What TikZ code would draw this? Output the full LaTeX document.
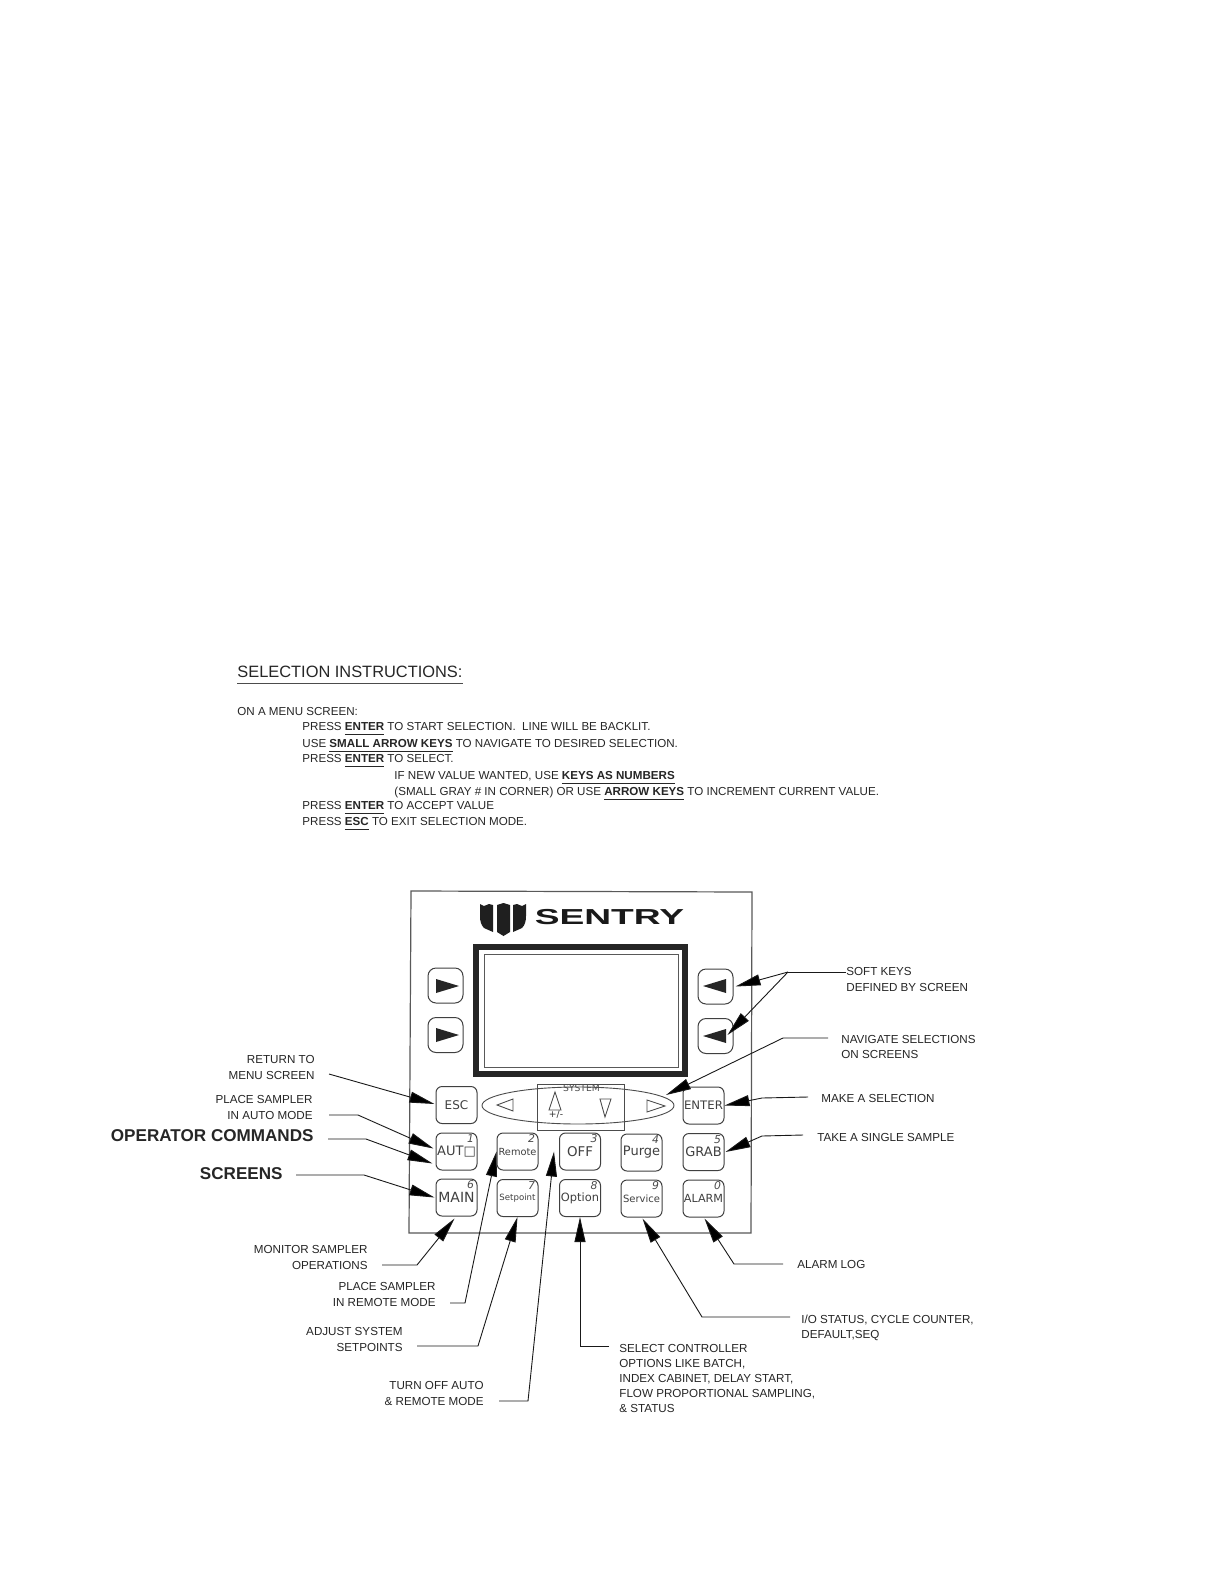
\documentclass[tikz,border=0pt]{standalone}
\usepackage{fontspec}
\setmainfont{Liberation Sans}
\newfontfamily\keyfont{DejaVu Sans}
\usetikzlibrary{arrows.meta}
\newcommand{\sz}[1]{\fontsize{#1}{#1}\selectfont}
\newcommand{\ul}[1]{\textbf{\underline{#1\rule[-.8pt]{0pt}{0pt}}}}
\tikzset{
  x=.5pt,y=-.5pt,
  lab/.style={inner sep=0pt,text=black!85,font=\fontsize{5.82}{7.55}\selectfont},
  labr/.style={lab,align=right,anchor=east},
  labl/.style={lab,align=left,anchor=west},
  big/.style={inner sep=0pt,anchor=east,text=black!85,font=\bfseries\fontsize{8.55}{9}\selectfont},
  instr/.style={inner sep=0pt,anchor=west,text=black!85,font=\fontsize{5.8}{7}\selectfont},
  keybox/.style={draw=black!75,line width=.5pt,rounded corners=3pt,minimum width=20.5pt,minimum height=18.5pt,inner sep=0pt,text=black!75},
  softkey/.style={draw=black!75,line width=.5pt,rounded corners=4pt,minimum width=17.5pt,minimum height=17.5pt,inner sep=0pt},
  keynum/.style={inner sep=0pt,anchor=north east,text=black!70,font=\keyfont\itshape\fontsize{5.4}{6}\selectfont},
  conn/.style={draw=black!90,line width=.45pt,-{Triangle[length=12.5pt,width=5.5pt,fill=black]}},
  plain/.style={draw=black!90,line width=.45pt},
  glyph/.style={draw=black!70,line width=.45pt},
  solidtri/.style={fill=black!85,draw=none},
}
\begin{document}
\begin{tikzpicture}
\useasboundingbox (0,0) rectangle (1224,1584);
\fill[white] (0,0) rectangle (1224,1584);

% instructions
\node[anchor=west,inner sep=0pt,text=black!85,font=\fontsize{8.2}{9}\selectfont] (title) at (237,672) {SELECTION INSTRUCTIONS:};
\draw[black!70,line width=.5pt] (237,683) -- (463,683);
\node[instr] (i0) at (237,711) {ON A MENU SCREEN:};
\node[instr] (i1) at (302,729) {PRESS \ul{ENTER} TO START SELECTION.\ \ LINE WILL BE BACKLIT.};
\node[instr] (i2) at (302,746) {USE \ul{SMALL ARROW KEYS} TO NAVIGATE TO DESIRED SELECTION.};
\node[instr] (i3) at (302,761) {PRESS \ul{ENTER} TO SELECT.};
\node[instr] (i4) at (394,778) {IF NEW VALUE WANTED, USE \ul{KEYS AS NUMBERS}};
\node[instr] (i5) at (394,794) {(SMALL GRAY \# IN CORNER) OR USE \ul{ARROW KEYS} TO INCREMENT CURRENT VALUE.};
\node[instr] (i6) at (302,808) {PRESS \ul{ENTER} TO ACCEPT VALUE};
\node[instr] (i7) at (302,824) {PRESS \ul{ESC} TO EXIT SELECTION MODE.};

% panel
\draw[black!65,line width=.6pt] (411,891) -- (752,892) -- (751,1233) -- (409,1233) -- cycle;

% logo
\fill[black!88] (480,904) -- (484,906) -- (489,904) -- (493,905) -- (493,932) -- (484,928) .. controls (481,925) and (480,921) .. (480,916) -- cycle;
\fill[black!88] (497,905) -- (503.5,903) -- (510,905) -- (510,932) -- (503.5,936) -- (497,932) -- cycle;
\fill[black!88] (526,904) -- (522,906) -- (517,904) -- (513,905) -- (513,932) -- (522,928) .. controls (525,925) and (526,921) .. (526,916) -- cycle;
\node[inner sep=0pt,text=black!90,font=\bfseries\fontsize{11.4}{12}\selectfont,xscale=1.63,yscale=.95] (brand) at (609.5,917) {SENTRY};

% screen
\draw[black!85,line width=2.6pt] (476,947) rectangle (685,1074);
\draw[black!65,line width=.5pt] (484,954) rectangle (678,1067);

% soft keys
\node[softkey] (sl1) at (445.5,985.5) {};
\node[softkey] (sl2) at (445.5,1035) {};
\node[softkey] (sr1) at (715.5,986.5) {};
\node[softkey] (sr2) at (715.5,1036) {};
\fill[solidtri] (436,979) -- (459,986) -- (436,993) -- cycle;
\fill[solidtri] (436,1028) -- (459,1035) -- (436,1042) -- cycle;
\fill[solidtri] (726,979) -- (703,986) -- (726,993) -- cycle;
\fill[solidtri] (726,1029) -- (703,1036) -- (726,1043) -- cycle;

% nav cluster
\draw[glyph] (578,1105.5) ellipse [x radius=96,y radius=18.5];
\draw[glyph] (537,1084) rectangle (624,1130);
\draw[glyph] (497,1105) -- (513,1099) -- (513,1111) -- cycle;
\draw[glyph] (555,1092) -- (549,1110) -- (561,1110) -- cycle;
\draw[glyph] (600,1099) -- (611,1099) -- (605,1117) -- cycle;
\draw[glyph] (647,1100) -- (665,1106) -- (647,1112) -- cycle;
\node[inner sep=0pt,text=black!70,font=\keyfont\fontsize{4.6}{5}\selectfont] (sys) at (581.5,1088.5) {SYSTEM};
\node[inner sep=0pt,text=black!80,font=\keyfont\fontsize{4.6}{5}\selectfont] (pm) at (556,1114.5) {+/-};

% keys
\node[keybox,font=\keyfont\sz{6}] (esc) at (456.5,1105) {ESC};
\node[keybox,font=\keyfont\sz{5.85}] (enter) at (703.5,1105.5) {ENTER};
\node[keybox,font=\keyfont\sz{6.5}] (auto) at (456.5,1151.5) {AUT□};
\node[keybox,font=\keyfont\sz{4.9}] (remote) at (517.5,1151.5) {Remote};
\node[keybox,font=\keyfont\sz{6.7}] (off) at (580,1151.5) {OFF};
\node[keybox,font=\keyfont\sz{6.5}] (purge) at (641.5,1152.5) {Purge};
\node[keybox,font=\keyfont\sz{6.5}] (grab) at (703.5,1152) {GRAB};
\node[keybox,font=\keyfont\sz{7}] (main) at (456.5,1197.5) {MAIN};
\node[keybox,font=\keyfont\sz{4.3}] (setpoint) at (517.5,1198) {Setpoint};
\node[keybox,font=\keyfont\sz{5.7}] (option) at (580,1198) {Option};
\node[keybox,font=\keyfont\sz{5}] (service) at (641.5,1198.5) {Service};
\node[keybox,font=\keyfont\sz{5.6}] (alarm) at (703.5,1198.5) {ALARM};
\node[keynum] (n1) at ([shift={(-3,2)}]auto.north east) {1};
\node[keynum] (n2) at ([shift={(-3,2)}]remote.north east) {2};
\node[keynum] (n3) at ([shift={(-3,2)}]off.north east) {3};
\node[keynum] (n4) at ([shift={(-3,2)}]purge.north east) {4};
\node[keynum] (n5) at ([shift={(-3,2)}]grab.north east) {5};
\node[keynum] (n6) at ([shift={(-3,2)}]main.north east) {6};
\node[keynum] (n7) at ([shift={(-3,2)}]setpoint.north east) {7};
\node[keynum] (n8) at ([shift={(-3,2)}]option.north east) {8};
\node[keynum] (n9) at ([shift={(-3,2)}]service.north east) {9};
\node[keynum] (n0) at ([shift={(-3,2)}]alarm.north east) {0};

% labels
\node[labr] (lreturn) at (315,1067.5) {RETURN TO\\MENU SCREEN};
\node[labr] (lauto) at (313,1107.5) {PLACE SAMPLER\\IN AUTO MODE};
\node[big] (lop) at (314,1136) {OPERATOR COMMANDS};
\node[big] (lscr) at (283,1174) {SCREENS};
\node[labr] (lmon) at (368,1257.5) {MONITOR SAMPLER\\OPERATIONS};
\node[labr] (lrem) at (436,1294.5) {PLACE SAMPLER\\IN REMOTE MODE};
\node[labr] (ladj) at (403,1339.5) {ADJUST SYSTEM\\SETPOINTS};
\node[labr] (loff) at (484,1393.5) {TURN OFF AUTO\\\& REMOTE MODE};
\node[labl] (lsel) at (619,1378.5) {SELECT CONTROLLER\\OPTIONS LIKE BATCH,\\INDEX CABINET, DELAY START,\\FLOW PROPORTIONAL SAMPLING,\\\& STATUS};
\node[labl] (lio) at (801,1327.5) {I/O STATUS, CYCLE COUNTER,\\DEFAULT,SEQ};
\node[labl] (lalarm) at (797,1264) {ALARM LOG};
\node[labl] (lgrab) at (817,1137) {TAKE A SINGLE SAMPLE};
\node[labl] (lmake) at (821,1098) {MAKE A SELECTION};
\node[labl] (lnav) at (841,1047) {NAVIGATE SELECTIONS\\ON SCREENS};
\node[labl] (lsoft) at (846,979.5) {SOFT KEYS\\DEFINED BY SCREEN};

% connector free ends
\coordinate (c1) at (329,1074);
\coordinate (c2) at (329,1115);
\coordinate (c2b) at (358,1115);
\coordinate (c3) at (328,1139);
\coordinate (c3b) at (366,1139);
\coordinate (c4) at (296,1175);
\coordinate (c4b) at (364,1175);
\coordinate (c5) at (382,1265);
\coordinate (c5b) at (417,1265);
\coordinate (c6) at (450,1303);
\coordinate (c6b) at (465,1303);
\coordinate (c7) at (417,1346);
\coordinate (c7b) at (478,1346);
\coordinate (c8) at (499,1401);
\coordinate (c8b) at (528,1401);
\coordinate (c9) at (609,1346);
\coordinate (c9b) at (580,1346);
\coordinate (c10) at (790,1317);
\coordinate (c10b) at (702,1317);
\coordinate (c11) at (783,1264);
\coordinate (c11b) at (734,1264);
\coordinate (c12) at (803,1135);
\coordinate (c12b) at (762,1136);
\coordinate (c13) at (808,1097);
\coordinate (c13b) at (762,1098);
\coordinate (c14) at (828,1038);
\coordinate (c14b) at (783,1038);
\coordinate (c15) at (846,972);
\coordinate (c15b) at (788,972);
\coordinate (navtip) at (666,1095);

% connectors
\draw[conn] (c1) -- ([shift={(-1,-1)}]esc.west);
\draw[conn] (c2) -- (c2b) -- ([shift={(-2,-3)}]auto.west);
\draw[conn] (c3) -- (c3b) -- ([shift={(-3,12)}]auto.west);
\draw[conn] (c4) -- (c4b) -- ([shift={(-1,0)}]main.west);
\draw[conn] (c5) -- (c5b) -- ([shift={(-2,2)}]main.south);
\draw[conn] (c6) -- (c6b) -- (remote.west);
\draw[conn] (c7) -- (c7b) -- (setpoint.south);
\draw[conn] (c8) -- (c8b) -- ([shift={(-26,0)}]off.center);
\draw[conn] (c9) -- (c9b) -- (option.south);
\draw[conn] (c10) -- (c10b) -- ([shift={(1,1)}]service.south);
\draw[conn] (c11) -- (c11b) -- ([shift={(1,1)}]alarm.south);
\draw[conn] (c12) -- (c12b) -- ([shift={(1,0)}]grab.east);
\draw[conn] (c13) -- (c13b) -- (enter.east);
\draw[conn] (c14) -- (c14b) -- (navtip);
\draw[plain] (c15) -- (c15b);
\draw[conn] (c15b) -- ([shift={(2,0)}]sr1.east);
\draw[conn] (c15b) -- ([shift={(-6,-1)}]sr2.east);
\end{tikzpicture}
\end{document}
